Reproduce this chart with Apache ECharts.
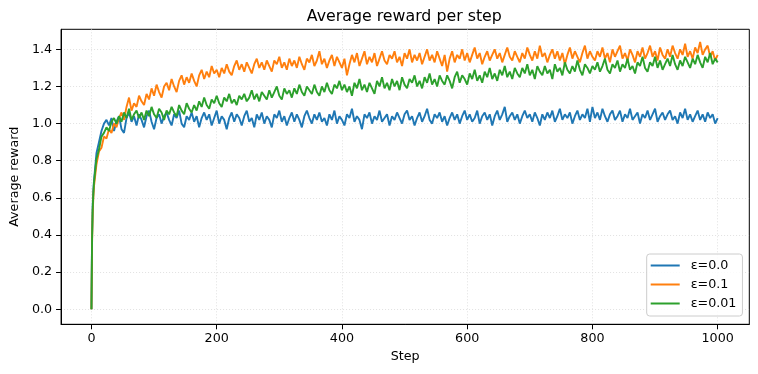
<!DOCTYPE html>
<html>
<head>
<meta charset="utf-8">
<script src="https://cdn.jsdelivr.net/npm/echarts@6/dist/echarts.min.js"></script>
<style>html,body{margin:0;padding:0;background:#fff}#c{width:758px;height:374px}</style>
</head>
<body>
<div id="c"></div>
<script>
// Steps 0..3 individually, then every 4 steps from 4 to 1000
const earlySteps = [0, 1, 2, 3];
const STRIDE = 4;
const seriesNames = ['ε=0.0', 'ε=0.1', 'ε=0.01'];
const xTicks = [0, 200, 400, 600, 800, 1000];
const yTicks = [0, 0.2, 0.4, 0.6, 0.8, 1.0, 1.2, 1.4];

const greedyEarly = [0.00, 0.40, 0.56, 0.64];
const greedy = [
  0.69,0.84,0.90,0.96,1.00,1.02,0.99,1.03,0.96,1.01,
  1.04,0.97,0.95,1.03,1.06,1.01,1.04,0.99,1.05,1.02,
  0.98,1.04,1.07,1.01,0.97,1.03,1.05,1.00,1.04,1.06,
  1.02,0.99,1.05,1.03,1.07,1.00,0.98,1.04,1.02,1.06,
  1.01,1.04,0.98,1.03,1.06,1.02,1.05,0.99,1.03,1.07,
  1.00,1.04,1.02,0.97,1.03,1.06,1.01,1.05,1.03,0.99,
  1.04,1.07,1.01,1.03,0.98,1.05,1.02,1.06,1.00,1.04,
  1.02,0.98,1.05,1.03,1.07,1.01,1.04,0.99,1.03,1.06,
  1.01,1.05,1.02,0.98,1.04,1.07,1.03,1.00,1.05,1.02,
  1.06,1.01,1.03,0.99,1.05,1.02,1.07,1.00,1.04,1.02,
  0.99,1.05,1.03,1.08,1.01,1.04,1.02,0.97,1.05,1.03,
  1.06,1.00,1.04,1.02,1.07,1.01,1.03,1.05,0.99,1.04,
  1.02,1.06,1.03,1.00,1.05,1.07,1.02,1.04,0.99,1.03,
  1.06,1.01,1.04,1.08,1.02,1.00,1.05,1.03,1.06,1.01,
  1.04,0.99,1.03,1.06,1.02,1.05,1.00,1.04,1.07,1.02,
  1.05,1.01,1.03,1.07,1.00,1.04,1.06,1.02,1.05,0.99,
  1.04,1.07,1.02,1.05,1.09,1.01,1.04,1.06,1.02,1.05,
  1.00,1.04,1.07,1.03,1.05,1.01,1.06,1.03,0.99,1.05,
  1.02,1.06,1.03,1.07,1.01,1.04,1.08,1.02,1.05,1.03,
  1.06,1.00,1.04,1.07,1.02,1.05,1.03,1.08,1.01,1.09,
  1.03,1.06,1.02,1.08,1.04,1.01,1.05,1.07,1.02,1.04,
  1.07,1.01,1.05,1.03,1.08,1.02,1.04,1.06,1.00,1.05,
  1.03,1.07,1.02,1.05,1.08,1.01,1.04,1.06,1.02,1.05,
  1.07,1.02,1.04,1.00,1.06,1.03,1.08,1.02,1.05,1.01,
  1.04,1.07,1.02,1.05,1.01,1.06,1.03,1.05,1.00,1.03
];

const eps01Early = [0.00, 0.36, 0.52, 0.60];
const eps01 = [
  0.66,0.78,0.85,0.87,0.93,0.92,0.97,0.95,1.00,0.98,
  1.03,1.06,1.02,1.09,1.14,1.07,1.11,1.09,1.15,1.12,
  1.10,1.16,1.13,1.19,1.15,1.21,1.17,1.14,1.20,1.22,
  1.18,1.24,1.20,1.17,1.23,1.26,1.21,1.25,1.22,1.27,
  1.23,1.20,1.26,1.29,1.24,1.28,1.25,1.31,1.27,1.29,
  1.25,1.30,1.27,1.32,1.28,1.26,1.31,1.34,1.29,1.32,
  1.28,1.33,1.30,1.27,1.32,1.35,1.30,1.33,1.29,1.34,
  1.31,1.28,1.34,1.32,1.36,1.30,1.33,1.29,1.35,1.31,
  1.34,1.30,1.36,1.32,1.29,1.35,1.33,1.37,1.31,1.34,
  1.39,1.32,1.35,1.30,1.34,1.37,1.31,1.36,1.33,1.30,
  1.35,1.26,1.32,1.37,1.33,1.38,1.31,1.35,1.39,1.32,
  1.36,1.33,1.38,1.31,1.35,1.39,1.34,1.32,1.37,1.35,
  1.39,1.33,1.36,1.31,1.38,1.35,1.40,1.33,1.37,1.34,
  1.38,1.32,1.36,1.40,1.34,1.37,1.33,1.39,1.35,1.31,
  1.37,1.28,1.35,1.39,1.33,1.37,1.35,1.40,1.34,1.38,
  1.33,1.37,1.41,1.35,1.38,1.32,1.36,1.39,1.34,1.37,
  1.40,1.35,1.38,1.33,1.37,1.41,1.36,1.34,1.39,1.36,
  1.33,1.38,1.35,1.41,1.37,1.34,1.39,1.35,1.42,1.36,
  1.38,1.33,1.37,1.40,1.35,1.39,1.34,1.38,1.32,1.37,
  1.41,1.35,1.39,1.36,1.33,1.38,1.42,1.35,1.39,1.36,
  1.34,1.39,1.36,1.41,1.35,1.38,1.33,1.40,1.36,1.39,
  1.42,1.35,1.38,1.34,1.40,1.37,1.33,1.39,1.36,1.41,
  1.35,1.38,1.42,1.36,1.39,1.34,1.41,1.37,1.35,1.40,
  1.36,1.42,1.38,1.35,1.40,1.37,1.43,1.36,1.39,1.35,
  1.41,1.38,1.44,1.37,1.40,1.42,1.36,1.39,1.34,1.37
];

const eps001Early = [0.00, 0.38, 0.54, 0.62];
const eps001 = [
  0.68,0.81,0.86,0.93,0.95,0.98,0.96,1.01,1.03,1.00,
  1.04,1.01,1.06,1.03,1.08,1.02,1.05,1.07,1.03,1.06,
  1.02,1.07,1.04,1.09,1.05,1.03,1.08,1.06,1.02,1.07,
  1.05,1.09,1.06,1.04,1.10,1.07,1.05,1.11,1.08,1.06,
  1.10,1.07,1.12,1.09,1.14,1.10,1.08,1.13,1.11,1.15,
  1.11,1.09,1.14,1.12,1.16,1.11,1.13,1.10,1.15,1.13,
  1.16,1.12,1.14,1.18,1.13,1.16,1.12,1.17,1.15,1.13,
  1.18,1.14,1.17,1.20,1.15,1.13,1.19,1.16,1.18,1.14,
  1.19,1.16,1.21,1.17,1.15,1.20,1.18,1.16,1.21,1.17,
  1.15,1.20,1.17,1.22,1.18,1.16,1.21,1.19,1.23,1.18,
  1.21,1.17,1.20,1.15,1.22,1.19,1.24,1.18,1.21,1.17,
  1.22,1.19,1.16,1.23,1.20,1.25,1.19,1.22,1.18,1.24,
  1.20,1.23,1.18,1.25,1.21,1.19,1.24,1.22,1.26,1.20,
  1.23,1.19,1.25,1.22,1.27,1.21,1.24,1.20,1.26,1.23,
  1.21,1.26,1.23,1.19,1.25,1.28,1.22,1.26,1.24,1.21,
  1.27,1.24,1.29,1.23,1.26,1.22,1.28,1.25,1.30,1.24,
  1.27,1.23,1.29,1.26,1.31,1.25,1.28,1.24,1.30,1.27,
  1.25,1.30,1.27,1.32,1.26,1.29,1.24,1.31,1.28,1.26,
  1.31,1.27,1.29,1.24,1.32,1.28,1.30,1.26,1.33,1.29,
  1.27,1.31,1.28,1.34,1.29,1.26,1.32,1.30,1.27,1.31,
  1.29,1.33,1.28,1.31,1.35,1.29,1.27,1.32,1.30,1.34,
  1.28,1.32,1.30,1.35,1.29,1.31,1.27,1.33,1.31,1.36,
  1.30,1.28,1.33,1.31,1.36,1.30,1.34,1.29,1.32,1.35,
  1.31,1.37,1.32,1.29,1.34,1.31,1.36,1.33,1.30,1.35,
  1.32,1.37,1.33,1.30,1.36,1.33,1.38,1.32,1.35,1.33
];

function pairs(early, main) {
  const out = early.map((v, i) => [earlySteps[i], v]);
  main.forEach((v, i) => out.push([(i + 1) * STRIDE, v]));
  return out;
}

const FONT = 'DejaVu Sans';
const colors = ['#1f77b4', '#ff7f0e', '#2ca02c'];
const gridLine = { show: true, lineStyle: { color: '#d9d9d9', width: 0.8, type: [1, 2] } };

const chart = echarts.init(document.getElementById('c'), null, { renderer: 'canvas' });
chart.setOption({
  animation: false,
  color: colors,
  textStyle: { fontFamily: FONT },
  graphic: [{
    type: 'text', x: 404.3, y: 16.6,
    style: { text: 'Average reward per step', x: 0, y: 0, align: 'center', verticalAlign: 'middle',
      fontFamily: FONT, fontSize: 15.8, fill: '#000' }
  }],
  grid: { left: 58.53, right: 8.7, top: 29.3, bottom: 49.7, show: true, borderColor: '#000', borderWidth: 1, containLabel: false },
  legend: {
    orient: 'vertical', left: 646.7, top: 254,
    data: seriesNames,
    icon: 'rect', itemWidth: 29, itemHeight: 2, itemGap: 6,
    padding: [5, 6, 6, 4],
    backgroundColor: 'rgba(255,255,255,0.85)', borderColor: '#cccccc', borderWidth: 1, borderRadius: 3,
    textStyle: { fontFamily: FONT, fontSize: 12.7, color: '#000', padding: [0, 0, 0, 6] }
  },
  xAxis: {
    type: 'value', min: -48.5, max: 1050.5,
    name: 'Step', nameLocation: 'middle', nameGap: 25,
    nameTextStyle: { fontFamily: FONT, fontSize: 12.7, color: '#000' },
    axisLine: { show: true, onZero: false, lineStyle: { color: '#000', width: 1 } },
    axisTick: { show: true, length: 5, lineStyle: { color: '#000', width: 1 }, customValues: xTicks },
    axisLabel: { fontFamily: FONT, fontSize: 12.7, color: '#000', margin: 8, customValues: xTicks,
      formatter: v => String(v) },
    splitLine: gridLine
  },
  yAxis: {
    type: 'value', min: -0.081, max: 1.508,
    name: 'Average reward', nameLocation: 'middle', nameGap: 36, nameRotate: 90,
    nameTextStyle: { fontFamily: FONT, fontSize: 12.7, color: '#000' },
    axisLine: { show: true, onZero: false, lineStyle: { color: '#000', width: 1 } },
    axisTick: { show: true, length: 5, lineStyle: { color: '#000', width: 1 }, customValues: yTicks },
    axisLabel: { fontFamily: FONT, fontSize: 12.7, color: '#000', margin: 9, customValues: yTicks,
      formatter: v => v.toFixed(1) },
    splitLine: gridLine
  },
  series: [
    { name: seriesNames[0], type: 'line', data: pairs(greedyEarly, greedy), showSymbol: false, lineStyle: { width: 1.9 }, z: 2 },
    { name: seriesNames[1], type: 'line', data: pairs(eps01Early, eps01), showSymbol: false, lineStyle: { width: 1.9 }, z: 3 },
    { name: seriesNames[2], type: 'line', data: pairs(eps001Early, eps001), showSymbol: false, lineStyle: { width: 1.9 }, z: 4 }
  ]
});
</script>
</body>
</html>
